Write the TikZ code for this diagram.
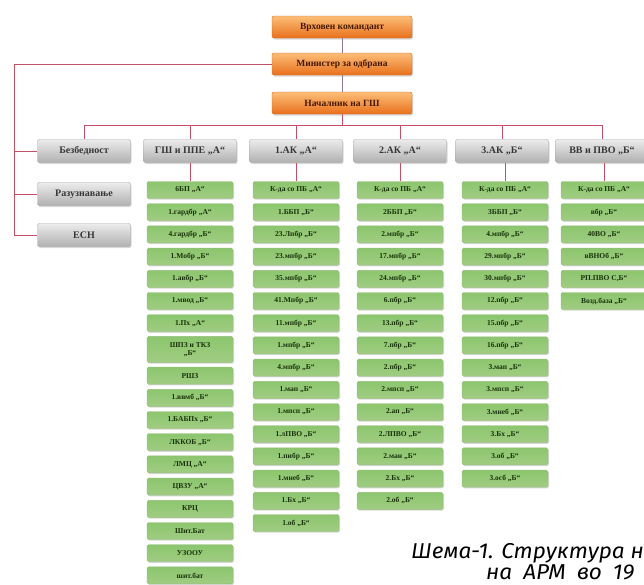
\documentclass[tikz,border=0pt]{standalone}
\usepackage{fontspec}
\setmainfont{Liberation Serif}
\newfontfamily\capfont[FakeStretch=1.05]{Fira Sans}
\usetikzlibrary{shadows}
\definecolor{lnkc}{RGB}{196,80,104}
\definecolor{vlnc}{RGB}{140,120,150}
\definecolor{oTop}{RGB}{252,190,120}
\definecolor{oBot}{RGB}{232,112,28}
\definecolor{oDr}{RGB}{214,108,36}
\definecolor{oTxt}{RGB}{70,25,0}
\definecolor{gTop}{RGB}{236,236,236}
\definecolor{gMid}{RGB}{212,212,212}
\definecolor{gBot}{RGB}{176,176,176}
\definecolor{gDr}{RGB}{165,165,165}
\definecolor{gTxt}{RGB}{55,55,55}
\definecolor{lTop}{RGB}{140,198,110}
\definecolor{lMid}{RGB}{214,236,196}
\definecolor{lBot}{RGB}{160,204,130}
\definecolor{lDr}{RGB}{150,190,125}
\definecolor{lTxt}{RGB}{25,50,10}
\tikzset{
  lnk/.style={draw=lnkc, line width=1pt},
  vln/.style={draw=vlnc, line width=1pt},
  obox/.style={rounded corners=2pt, draw=oDr, top color=oTop, bottom color=oBot,
    minimum width=140pt, minimum height=22pt, inner sep=1pt,
    font=\bfseries\fontsize{9.5}{11}\selectfont, text=oTxt,
    drop shadow={opacity=.3, shadow xshift=1pt, shadow yshift=-1.5pt}},
  gbox/.style={rounded corners=2pt, draw=gDr, top color=gTop, middle color=gMid, bottom color=gBot,
    minimum width=93pt, minimum height=23pt, inner sep=1pt,
    font=\bfseries\fontsize{10}{11}\selectfont, text=gTxt,
    drop shadow={opacity=.3, shadow xshift=1pt, shadow yshift=-1.5pt}},
  lbox/.style={rounded corners=1.5pt, draw=lDr, top color=lTop, middle color=lMid, bottom color=lBot,
    minimum width=86pt, minimum height=17pt, inner sep=1pt, align=center,
    font=\bfseries\fontsize{7.5}{8}\selectfont, text=lTxt,
    drop shadow={opacity=.3, shadow xshift=1pt, shadow yshift=-1.2pt}},
  captxt/.style={anchor=base west, inner sep=0pt, font=\capfont\itshape\fontsize{21.5}{24}\selectfont},
}
\begin{document}
\begin{tikzpicture}[x=1pt,y=-1pt]
\clip (0,0) rectangle (644,584);
\useasboundingbox (0,0) rectangle (644,584);
\fill[white] (0,0) rectangle (644,584);

% top chain
\node[obox] (cmd) at (342,27) {Врховен командант};
\node[obox] (min) at (342,64) {Министер за одбрана};
\node[obox] (gs)  at (342,103) {Началник на ГШ};

% second row
\node[gbox] (bez)   at (84,151)  {Безбедност};
\node[gbox] (gsppe) at (190,151) {ГШ и ППЕ „А“};
\node[gbox] (ak1)   at (296,151) {1.АК „А“};
\node[gbox] (ak2)   at (400,151) {2.АК „А“};
\node[gbox] (ak3)   at (502,151) {3.АК „Б“};
\node[gbox] (vv)    at (602,151) {ВВ и ПВО „Б“};
\node[gbox] (raz)   at (84,194)  {Разузнавање};
\node[gbox] (esn)   at (84,235)  {ЕСН};

% green columns
\def\sp{22.2}
\foreach \t [count=\i] in {{6БП „А“},{1.гардбр „А“},{4.гардбр „Б“},{1.Мобр „Б“},{1.авбр „Б“},{1.мвод „Б“},{1.Пх „А“}}
  \node[lbox] (c1-\i) at (190,{190+\sp*(\i-1)}) {\t};
\node[lbox, minimum height=26pt] (c1-8) at (190,{190+\sp*7+4}) {ШПЗ и ТКЗ\\„Б“};
\foreach \t [count=\i from 9] in {{РШЗ},{1.ввмб „Б“},{1.БАБПх „Б“},{ЛККОБ „Б“},{ЛМЦ „А“},{ЦВЗУ „А“},{КРЦ},{Шит.Бат},{УЗООУ},{шит.бат}}
  \node[lbox] (c1-\i) at (190,{190+\sp*(\i-1)+8}) {\t};

\foreach \t [count=\i] in {{К-да со ПБ „А“},{1.ББП „Б“},{23.Лпбр „Б“},{23.мпбр „Б“},{35.мпбр „Б“},{41.Мпбр „Б“},{11.мпбр „Б“},{1.мпбр „Б“},{4.мпбр „Б“},{1.мап „Б“},{1.мпсп „Б“},{1.лПВО „Б“},{1.пибр „Б“},{1.мнеб „Б“},{1.Бх „Б“},{1.об „Б“}}
  \node[lbox] (c2-\i) at (296,{190+\sp*(\i-1)}) {\t};

\foreach \t [count=\i] in {{К-да со ПБ „А“},{2ББП „Б“},{2.мпбр „Б“},{17.мпбр „Б“},{24.мпбр „Б“},{6.пбр „Б“},{13.пбр „Б“},{7.пбр „Б“},{2.пбр „Б“},{2.мпсп „Б“},{2.ап „Б“},{2.ЛПВО „Б“},{2.ман „Б“},{2.Бх „Б“},{2.об „Б“}}
  \node[lbox] (c3-\i) at (400,{190+\sp*(\i-1)}) {\t};

\foreach \t [count=\i] in {{К-да со ПБ „А“},{3ББП „Б“},{4.мпбр „Б“},{29.мпбр „Б“},{30.мпбр „Б“},{12.пбр „Б“},{15.пбр „Б“},{16.пбр „Б“},{3.мап „Б“},{3.мпсп „Б“},{3.мнеб „Б“},{3.Бх „Б“},{3.об „Б“},{3.осб „Б“}}
  \node[lbox] (c4-\i) at (505,{190+\sp*(\i-1)}) {\t};

\foreach \t [count=\i] in {{К-да со ПБ „А“},{вбр „Б“},{40ВО „Б“},{вВНОб „Б“},{РП.ПВО С,Б“},{Возд.база „Б“}}
  \node[lbox] (c5-\i) at (604,{190+\sp*(\i-1)}) {\t};

% connectors
\draw[vln] (cmd) -- (min);
\draw[vln] (min) -- (gs);
\coordinate (hub) at (342,125);
\draw[lnk] (gs.south) -- (hub);
\draw[lnk] (bez.north |- hub) -- (vv.north |- hub);
\foreach \n in {bez,gsppe,ak1,ak2,ak3,vv}
  \draw[lnk] (\n.north |- hub) -- (\n.north);
\coordinate (lt) at (14,64);
\draw[lnk] (min.west) -- (lt) -- (lt |- esn.west) -- (esn.west);
\draw[lnk] (lt |- bez.west) -- (bez.west);
\draw[lnk] (lt |- raz.west) -- (raz.west);
\draw[lnk] (gsppe.south -| c1-1.north) -- (c1-1.north);
\draw[lnk] (ak1.south -| c2-1.north) -- (c2-1.north);
\draw[lnk] (ak2.south -| c3-1.north) -- (c3-1.north);
\draw[lnk] (ak3.south -| c4-1.north) -- (c4-1.north);
\draw[lnk] (vv.south -| c5-1.north) -- (c5-1.north);

% caption
\node[captxt] (cap1) at (411,558) {Шема-1. Структура н};
\node[captxt] (cap2) at (486,579) {\spaceskip=11pt на АРМ во 19};
\end{tikzpicture}
\end{document}
